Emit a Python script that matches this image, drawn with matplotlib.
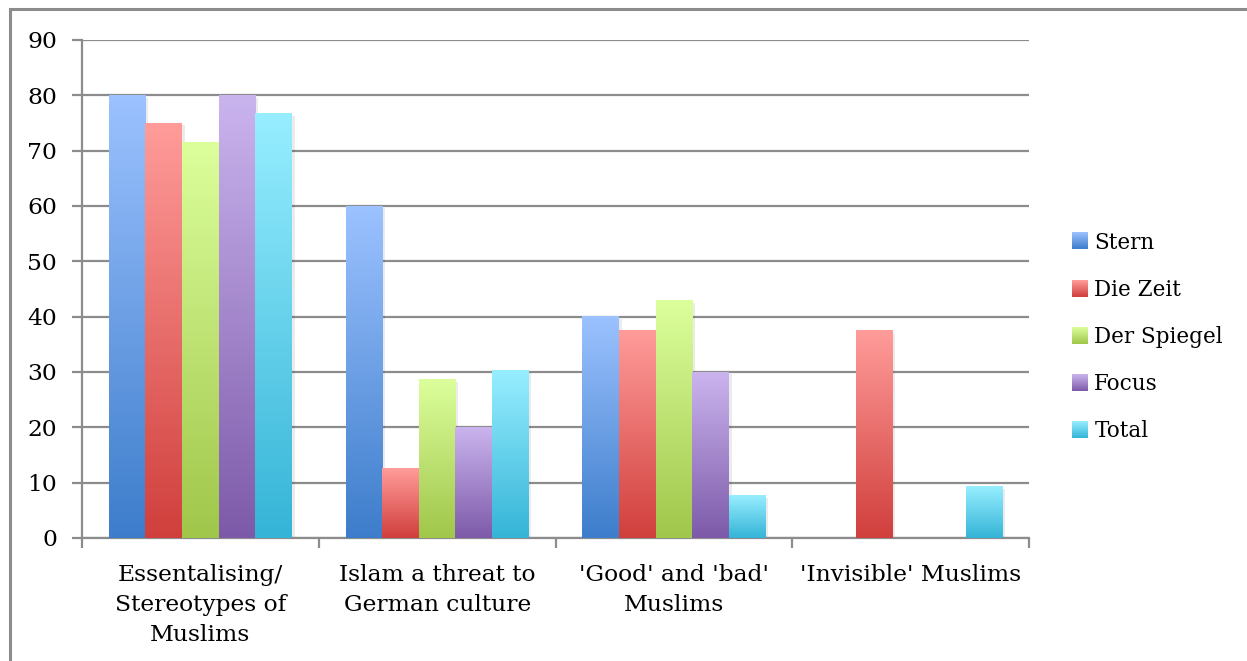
import numpy as np
import matplotlib
matplotlib.use('Agg')
from matplotlib import pyplot as plt
from matplotlib.colors import LinearSegmentedColormap, Normalize
from matplotlib.legend_handler import HandlerBase
from matplotlib.image import BboxImage
from matplotlib.transforms import Bbox, TransformedBbox
import matplotlib.patches as mpatches

categories = ['Essentalising/\nStereotypes of\nMuslims', 'Islam a threat to\nGerman culture',
              "'Good' and 'bad'\nMuslims", "'Invisible' Muslims"]
series = ['Stern', 'Die Zeit', 'Der Spiegel', 'Focus', 'Total']
stern = [80, 60, 40, 0]
die_zeit = [75, 12.5, 37.5, 37.5]
der_spiegel = [71.4, 28.6, 42.9, 0]
focus = [80, 20, 30, 0]
total = [76.7, 30.2, 7.7, 9.3]
yticks = list(range(0, 100, 10))

values = [stern, die_zeit, der_spiegel, focus, total]
# (top colour, bottom colour) of each gradient
grads = [('#9cc2ff', '#3d7dcb'),
         ('#ff9c9a', '#d03f3c'),
         ('#dcff9c', '#a0c64a'),
         ('#cab4ee', '#7d5aa9'),
         ('#97eeff', '#35b4d7')]
cmaps = [LinearSegmentedColormap.from_list(s, [b, t]) for s, (t, b) in zip(series, grads)]


class GradHandler(HandlerBase):
    # legend key drawn as a small vertical gradient
    def __init__(self, cmap):
        super().__init__()
        self.cmap = cmap

    def create_artists(self, legend, orig_handle, xdescent, ydescent, width, height, fontsize, trans):
        bb = TransformedBbox(Bbox.from_bounds(-xdescent, -ydescent, width, height), trans)
        img = BboxImage(bb, cmap=self.cmap, norm=Normalize(0, 1), interpolation='bilinear', origin='upper')
        img.set_data(np.linspace(1, 0, 64).reshape(-1, 1))
        return [img]


plt.rcParams['font.family'] = ['DejaVu Serif']
fs = 16.8

fig = plt.figure(figsize=(12.47, 6.61), dpi=100)
ax = fig.add_axes([82/1247, 1-538/661, (1029-82)/1247, (538-40)/661])

# outer chart frame
fig.patches.append(mpatches.Rectangle((10/1247, -0.1), 1.2, 1-9/661+0.1, transform=fig.transFigure,
                                      fill=False, edgecolor='#8c8c8c', linewidth=2.2, zorder=0))

w = 0.1546
x = np.arange(len(categories))
grad = np.linspace(0, 1, 256).reshape(-1, 1)
for i, vals in enumerate(values):
    xs = x + (i - 2) * w
    for xi, v in zip(xs, vals):
        if v <= 0:
            continue
        # soft shadow
        ax.add_patch(mpatches.Rectangle((xi - w/2 + 0.012, 0), w, v - 0.4, facecolor='#000000',
                                        alpha=0.08, edgecolor='none', zorder=2))
        ax.imshow(grad, extent=(xi - w/2, xi + w/2, 0, v), origin='lower', cmap=cmaps[i],
                  aspect='auto', zorder=3, interpolation='bilinear')
    ax.bar(xs, vals, w, label=series[i], linewidth=0, zorder=1, alpha=0)

ax.set_xlim(-0.5, len(categories) - 0.5)
ax.set_ylim(0, 90)
ax.set_yticks(yticks)
ax.yaxis.grid(True, color='#8c8c8c', linewidth=1.6)
ax.set_axisbelow(True)
for s in ['top', 'right']:
    ax.spines[s].set_visible(False)
for s in ['left', 'bottom']:
    ax.spines[s].set_color('#8c8c8c')
    ax.spines[s].set_linewidth(1.6)
ax.tick_params(axis='y', length=7, width=1.6, color='#8c8c8c', labelsize=fs, pad=11)
ax.set_xticks(np.arange(-0.5, len(categories)), minor=False)
ax.set_xticklabels([])
ax.set_xticks(x, minor=True)
ax.set_xticklabels(categories, minor=True, fontsize=fs, linespacing=1.46)
ax.tick_params(axis='x', which='major', length=7, width=1.6, color='#8c8c8c')
ax.tick_params(axis='x', which='minor', length=0, pad=19)

handles = [mpatches.Patch(label=s) for s in series]
hmap = {h: GradHandler(c) for h, c in zip(handles, cmaps)}
leg = fig.legend(handles, series, loc='center left', bbox_to_anchor=(1053/1247, 1-337/661),
                 frameon=False, fontsize=15.5, handlelength=0.72, handleheight=0.8,
                 handletextpad=0.3, labelspacing=1.17, handler_map=hmap)

fig.savefig('out.png', dpi=100)
